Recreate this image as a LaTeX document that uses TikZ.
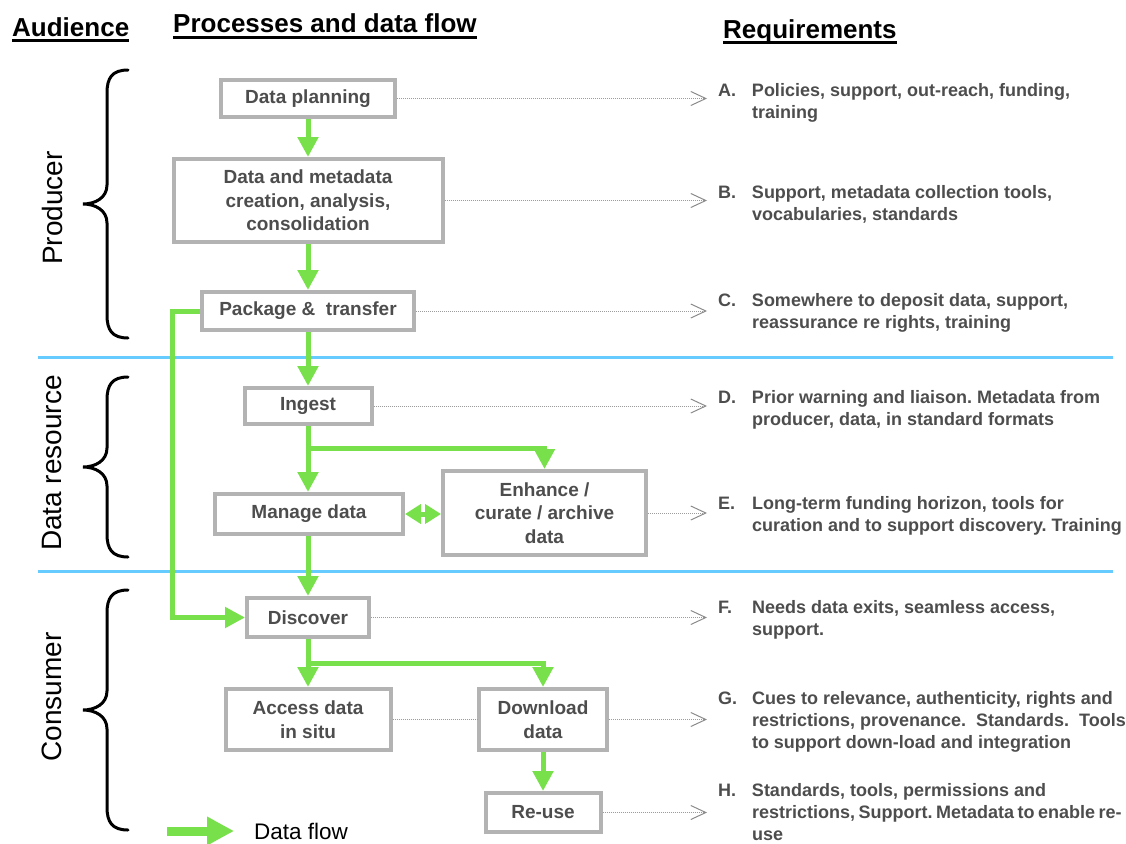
\documentclass[tikz,border=0pt]{standalone}
\usepackage{fontspec}
\setmainfont{Liberation Sans}
\usetikzlibrary{arrows.meta,calc}
\frenchspacing

\definecolor{boxgray}{HTML}{B3B3B3}
\definecolor{txtgray}{HTML}{4D4D4D}
\definecolor{flowgreen}{HTML}{78E04B}
\definecolor{laneblue}{HTML}{66CCFF}
\definecolor{dotgray}{HTML}{9C9C9C}
\definecolor{tipgray}{HTML}{8A8A8A}

\tikzset{
  proc/.style={draw=boxgray, line width=4pt, fill=white, align=center,
    text=txtgray, font=\fontsize{19}{23.5}\selectfont\bfseries,
    inner sep=0pt, outer sep=2pt},
  flow/.style={draw=flowgreen, line width=5pt,
    -{Triangle[length=20pt,width=20pt]}},
  flowboth/.style={draw=flowgreen, line width=5pt,
    {Triangle[length=16pt,width=19pt]}-{Triangle[length=16pt,width=19pt]}},
  legendflow/.style={draw=flowgreen, line width=9pt,
    -{Triangle[length=27pt,width=27pt]}},
  reqline/.style={draw=dotgray, line width=1pt, dash pattern=on 1pt off 1pt,
    -{Straight Barb[length=15pt,width=14pt,line width=1pt,color=tipgray]}},
  plainlink/.style={draw=dotgray, line width=1pt, dash pattern=on 1pt off 1pt},
  req/.style={anchor=west, inner xsep=11pt, inner ysep=0pt, outer sep=0pt,
    align=left, text=txtgray, font=\fontsize{18}{22}\selectfont\bfseries},
  head/.style={anchor=base west, inner sep=0pt, text=black,
    font=\fontsize{26}{30}\selectfont\bfseries},
  headrule/.style={line width=2.6pt, black},
  audlabel/.style={rotate=90, inner sep=0pt, text=black,
    font=\fontsize{28}{32}\selectfont},
  bracepen/.style={line width=3pt, black, line cap=round},
  lane/.style={line width=3pt, laneblue},
}

% curly brace opening to the right: top end, tip, bottom end
\newcommand\audbrace[3]{%
  \draw[bracepen] (128,#1) .. controls (112,#1) and (107,#1+8) .. (107,#1+23)
    -- (107,#2-19) .. controls (107,#2-6) and (95,#2) .. (83,#2)
    .. controls (95,#2) and (107,#2+6) .. (107,#2+19)
    -- (107,#3-23) .. controls (107,#3-8) and (112,#3) .. (128,#3);}

% requirement text: lettered item with hanging lines
\newcommand\reqitem[2]{%
  \begin{tabular}{@{}l@{}l@{}}\makebox[34pt][l]{#1} & #2\end{tabular}}

\begin{document}
\begin{tikzpicture}[x=1pt, y=-1pt]
\useasboundingbox (0,0) rectangle (1126,843);

% column headings
\node[head] (hAud) at (12,37) {Audience};
\node[head] (hProc) at (173,33) {Processes and data flow};
\node[head] (hReq) at (723,38) {Requirements};
\draw[headrule] ([yshift=-3.5pt]hAud.base west) -- ([yshift=-3.5pt]hAud.base east);
\draw[headrule] ([yshift=-4.5pt]hProc.base west) -- ([yshift=-4.5pt]hProc.base east);
\draw[headrule] ([yshift=-4.5pt]hReq.base west) -- ([yshift=-4.5pt]hReq.base east);

% swim-lane separators
\draw[lane] (38,357) -- (1113,357);
\draw[lane] (38,571) -- (1113,571);

% audience braces and labels
\audbrace{70}{204}{338}
\audbrace{377}{467}{557}
\audbrace{590}{710}{830}
\node[audlabel] (lProd) at (52,208) {Producer};
\node[audlabel] (lRes) at (52,463) {Data resource};
\node[audlabel] (lCons) at (52,697) {Consumer};

% process boxes
\node[proc, minimum width=174pt, minimum height=37pt] (plan) at (308,98.5) {Data planning};
\node[proc, minimum width=269pt, minimum height=83pt] (create) at (308,200.5)
  {Data and metadata\\creation, analysis,\\consolidation};
\node[proc, minimum width=212pt, minimum height=38pt] (pack) at (308,311) {Package \&\ \ transfer};
\node[proc, minimum width=127pt, minimum height=36pt] (ingest) at (308,406) {Ingest};
\node[proc, minimum width=188pt, minimum height=40pt] (manage) at (309,514) {Manage data};
\node[proc, minimum width=203pt, minimum height=84pt] (enhance) at (544.5,513)
  {Enhance /\\curate / archive\\data};
\node[proc, minimum width=122pt, minimum height=39pt] (discover) at (308,617.5) {Discover};
\node[proc, minimum width=165pt, minimum height=61pt] (access) at (308,719.5) {Access data\\in situ};
\node[proc, minimum width=128pt, minimum height=61pt] (download) at (543,719.5) {Download\\data};
\node[proc, minimum width=115pt, minimum height=39pt] (reuse) at (543,812.5) {Re-use};

% requirement texts
\node[req] (rA) at (707,103) {\reqitem{A.}{Policies, support, out-reach, funding,\\ & training}};
\node[req] (rB) at (707,205) {\reqitem{B.}{Support, metadata collection tools,\\ & vocabularies, standards}};
\node[req] (rC) at (707,313) {\reqitem{C.}{Somewhere to deposit data, support,\\ & reassurance re rights, training}};
\node[req] (rD) at (707,410) {\reqitem{D.}{Prior warning and liaison. Metadata from\\ & producer, data, in standard formats}};
\node[req] (rE) at (707,516) {\reqitem{E.}{Long-term funding horizon, tools for\\ & curation and to support discovery. Training}};
\node[req] (rF) at (707,620) {\reqitem{F.}{Needs data exits, seamless access,\\ & support.}};
\node[req] (rG) at (707,722) {\reqitem{G.}{Cues to relevance, authenticity, rights and\\ & restrictions, provenance.\ \ Standards.\ \ Tools\\ & to support down-load and integration}};
\node[req] (rH) at (707,814) {\reqitem{H.}{Standards, tools, permissions and\\ & restrictions,\hspace{3.5pt}Support.\hspace{3.5pt}Metadata\hspace{3.5pt}to\hspace{3.5pt}enable\hspace{3.5pt}re-\\ & use}};

% links from processes to requirements
\draw[reqline] (plan.east) -- (plan.east -| rA.west);
\draw[reqline] (create.east) -- (create.east -| rB.west);
\draw[reqline] (pack.east) -- (pack.east -| rC.west);
\draw[reqline] (ingest.east) -- (ingest.east -| rD.west);
\draw[reqline] (enhance.east) -- (enhance.east -| rE.west);
\draw[reqline] (discover.east) -- (discover.east -| rF.west);
\draw[plainlink] (access.east) -- (access.east -| download.west);
\draw[reqline] (download.east) -- (download.east -| rG.west);
\draw[reqline] (reuse.east) -- (reuse.east -| rH.west);

% data flow
\coordinate (forkE) at (308,448);
\coordinate (forkD) at (308,663);
\draw[flow] (plan.south) -- (create.north);
\draw[flow] (create.south) -- (pack.north);
\draw[flow] (pack.south) -- (ingest.north);
\draw[flow] (ingest.south) -- (ingest.south |- manage.north);
\draw[flow] (forkE) -| (enhance.north);
\draw[flowboth] (manage.east) -- (manage.east -| enhance.west);
\draw[flow] (manage.south -| discover.north) -- (discover.north);
\draw[flow] (pack.west) -- ++(-28,0) |- (discover.west);
\draw[flow] (discover.south) -- (access.north);
\draw[flow] (forkD) -| (download.north);
\draw[flow] (download.south) -- (reuse.north);

% legend
\coordinate (legA) at (167,831);
\coordinate (legB) at (234,831);
\draw[legendflow] (legA) -- (legB);
\node[anchor=base west, inner sep=0pt, font=\fontsize{22.5}{27}\selectfont] (legT) at (254,839) {Data flow};
\end{tikzpicture}
\end{document}
